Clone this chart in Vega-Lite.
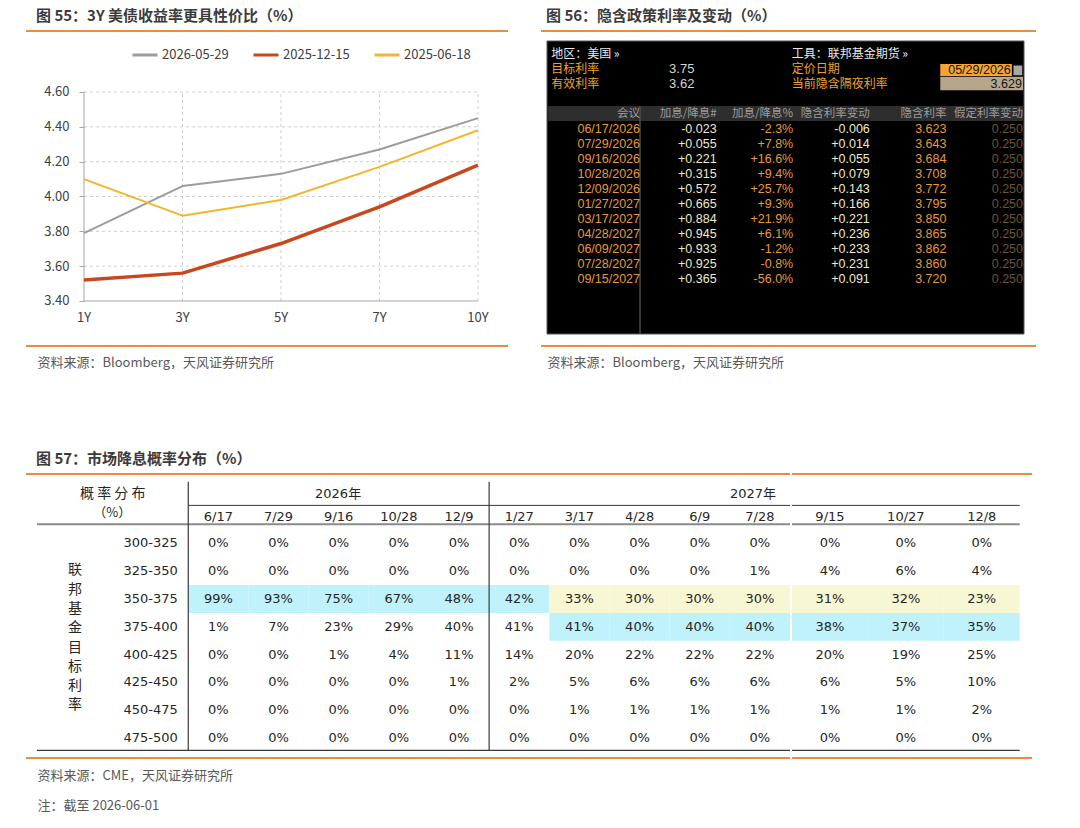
{
"$schema":"https://vega.github.io/schema/vega-lite/v6.json",
"background":"#ffffff",
"padding":{"left":25,"top":9,"right":5,"bottom":5},
"spacing":83,
"resolve":{"scale":{"x":"independent","y":"independent","color":"independent"}},
"datasets":{
"curve":[
{"date":"2026-05-29","tenor":"1Y","yield":3.79},{"date":"2026-05-29","tenor":"3Y","yield":4.06},{"date":"2026-05-29","tenor":"5Y","yield":4.13},{"date":"2026-05-29","tenor":"7Y","yield":4.27},{"date":"2026-05-29","tenor":"10Y","yield":4.45},
{"date":"2025-12-15","tenor":"1Y","yield":3.52},{"date":"2025-12-15","tenor":"3Y","yield":3.56},{"date":"2025-12-15","tenor":"5Y","yield":3.73},{"date":"2025-12-15","tenor":"7Y","yield":3.94},{"date":"2025-12-15","tenor":"10Y","yield":4.18},
{"date":"2025-06-18","tenor":"1Y","yield":4.10},{"date":"2025-06-18","tenor":"3Y","yield":3.89},{"date":"2025-06-18","tenor":"5Y","yield":3.98},{"date":"2025-06-18","tenor":"7Y","yield":4.17},{"date":"2025-06-18","tenor":"10Y","yield":4.38}
],
"bbg":[
{"meeting":"06/17/2026","hikes":"-0.023","pct":"-2.3%","chg":"-0.006","rate":"3.623","assumed":"0.250"},
{"meeting":"07/29/2026","hikes":"+0.055","pct":"+7.8%","chg":"+0.014","rate":"3.643","assumed":"0.250"},
{"meeting":"09/16/2026","hikes":"+0.221","pct":"+16.6%","chg":"+0.055","rate":"3.684","assumed":"0.250"},
{"meeting":"10/28/2026","hikes":"+0.315","pct":"+9.4%","chg":"+0.079","rate":"3.708","assumed":"0.250"},
{"meeting":"12/09/2026","hikes":"+0.572","pct":"+25.7%","chg":"+0.143","rate":"3.772","assumed":"0.250"},
{"meeting":"01/27/2027","hikes":"+0.665","pct":"+9.3%","chg":"+0.166","rate":"3.795","assumed":"0.250"},
{"meeting":"03/17/2027","hikes":"+0.884","pct":"+21.9%","chg":"+0.221","rate":"3.850","assumed":"0.250"},
{"meeting":"04/28/2027","hikes":"+0.945","pct":"+6.1%","chg":"+0.236","rate":"3.865","assumed":"0.250"},
{"meeting":"06/09/2027","hikes":"+0.933","pct":"-1.2%","chg":"+0.233","rate":"3.862","assumed":"0.250"},
{"meeting":"07/28/2027","hikes":"+0.925","pct":"-0.8%","chg":"+0.231","rate":"3.860","assumed":"0.250"},
{"meeting":"09/15/2027","hikes":"+0.365","pct":"-56.0%","chg":"+0.091","rate":"3.720","assumed":"0.250"}
],
"prob":[
{"range":"300-325","6/17":0,"7/29":0,"9/16":0,"10/28":0,"12/9":0,"1/27":0,"3/17":0,"4/28":0,"6/9":0,"7/28":0,"9/15":0,"10/27":0,"12/8":0},
{"range":"325-350","6/17":0,"7/29":0,"9/16":0,"10/28":0,"12/9":0,"1/27":0,"3/17":0,"4/28":0,"6/9":0,"7/28":0.01,"9/15":0.04,"10/27":0.06,"12/8":0.04},
{"range":"350-375","6/17":0.99,"7/29":0.93,"9/16":0.75,"10/28":0.67,"12/9":0.48,"1/27":0.42,"3/17":0.33,"4/28":0.30,"6/9":0.30,"7/28":0.30,"9/15":0.31,"10/27":0.32,"12/8":0.23},
{"range":"375-400","6/17":0.01,"7/29":0.07,"9/16":0.23,"10/28":0.29,"12/9":0.40,"1/27":0.41,"3/17":0.41,"4/28":0.40,"6/9":0.40,"7/28":0.40,"9/15":0.38,"10/27":0.37,"12/8":0.35},
{"range":"400-425","6/17":0,"7/29":0,"9/16":0.01,"10/28":0.04,"12/9":0.11,"1/27":0.14,"3/17":0.20,"4/28":0.22,"6/9":0.22,"7/28":0.22,"9/15":0.20,"10/27":0.19,"12/8":0.25},
{"range":"425-450","6/17":0,"7/29":0,"9/16":0,"10/28":0,"12/9":0.01,"1/27":0.02,"3/17":0.05,"4/28":0.06,"6/9":0.06,"7/28":0.06,"9/15":0.06,"10/27":0.05,"12/8":0.10},
{"range":"450-475","6/17":0,"7/29":0,"9/16":0,"10/28":0,"12/9":0,"1/27":0,"3/17":0.01,"4/28":0.01,"6/9":0.01,"7/28":0.01,"9/15":0.01,"10/27":0.01,"12/8":0.02},
{"range":"475-500","6/17":0,"7/29":0,"9/16":0,"10/28":0,"12/9":0,"1/27":0,"3/17":0,"4/28":0,"6/9":0,"7/28":0,"9/15":0,"10/27":0,"12/8":0}
]
},
"vconcat":[
{"hconcat":[
{
"width":482,"height":315,
"title":{"text":"图 55：3Y 美债收益率更具性价比（%）"},
"data":{"name":"curve"},
"layer":[
{"data":{"values":[{"v":3.6},{"v":3.8},{"v":4.0},{"v":4.2},{"v":4.4},{"v":4.6}]},
 "mark":{"type":"rule","color":"#cfcfcf","strokeDash":[3,3],"strokeWidth":1},
 "encoding":{"x":{"datum":"1Y","type":"ordinal","scale":{"type":"point","domain":["1Y","3Y","5Y","7Y","10Y"],"padding":0.4467,"align":0.659}},"x2":{"datum":"10Y"},
 "y":{"field":"v","type":"quantitative","scale":{"domain":[3.1416,4.9502],"nice":false,"zero":false}}}},
{"transform":[{"filter":"datum.date == '2026-05-29' && datum.tenor != '1Y'"}],
 "mark":{"type":"rule","color":"#cfcfcf","strokeDash":[3,3],"strokeWidth":1},
 "encoding":{"x":{"field":"tenor","type":"ordinal","scale":{"type":"point","domain":["1Y","3Y","5Y","7Y","10Y"],"padding":0.4467,"align":0.659}},
 "y":{"datum":3.4,"type":"quantitative","scale":{"domain":[3.1416,4.9502],"nice":false,"zero":false}},"y2":{"datum":4.6}}},
{"data":{"values":[{}]},"mark":{"type":"rule","color":"#a6a6a6","strokeWidth":1},
 "encoding":{"x":{"datum":"1Y","type":"ordinal","scale":{"type":"point","domain":["1Y","3Y","5Y","7Y","10Y"],"padding":0.4467,"align":0.659}},"x2":{"datum":"10Y"},
 "y":{"datum":3.4,"type":"quantitative","scale":{"domain":[3.1416,4.9502],"nice":false,"zero":false}}}},
{"data":{"values":[{}]},"mark":{"type":"rule","color":"#a6a6a6","strokeWidth":1},
 "encoding":{"x":{"datum":"1Y","type":"ordinal","scale":{"type":"point","domain":["1Y","3Y","5Y","7Y","10Y"],"padding":0.4467,"align":0.659}},
 "y":{"datum":3.4,"type":"quantitative","scale":{"domain":[3.1416,4.9502],"nice":false,"zero":false}},"y2":{"datum":4.6}}},
{"mark":{"type":"line","strokeJoin":"round"},
 "encoding":{
 "x":{"field":"tenor","type":"ordinal","scale":{"type":"point","domain":["1Y","3Y","5Y","7Y","10Y"],"padding":0.4467,"align":0.659},
   "axis":{"labels":false,"ticks":false,"domain":false,"grid":false,"title":"资料来源：Bloomberg，天风证券研究所","titleAnchor":"start","titleAlign":"left","titleX":11,"titlePadding":10,"titleBaseline":"top","titleFontSize":13,"titleFontWeight":"normal","titleColor":"#595959"}},
 "y":{"field":"yield","type":"quantitative","scale":{"domain":[3.1416,4.9502],"nice":false,"zero":false},
   "axis":{"values":[3.4,3.6,3.8,4.0,4.2,4.4,4.6],"format":".2f","offset":-58,"domain":false,"grid":false,"ticks":true,"tickSize":5,"tickColor":"#a6a6a6","labelPadding":10,"labelFontSize":13,"labelColor":"#404040","title":null}},
 "color":{"field":"date","type":"nominal","scale":{"domain":["2026-05-29","2025-12-15","2025-06-18"],"range":["#9c9c9c","#C9471D","#F5B52B"]},
   "legend":{"orient":"none","legendX":105,"legendY":10,"direction":"horizontal","title":null,"symbolType":"stroke","symbolSize":625,"symbolStrokeWidth":3,"labelFontSize":13,"labelColor":"#404040","columnPadding":18,"labelOffset":3}},
 "strokeWidth":{"condition":{"test":"datum.date == '2025-12-15'","value":3.5},"value":2},
 "order":{"value":null}
 }},
{"transform":[{"filter":"datum.date == '2026-05-29'"}],
 "mark":{"type":"text","baseline":"top","dy":11,"fontSize":13,"color":"#404040"},
 "encoding":{"x":{"field":"tenor","type":"ordinal","scale":{"type":"point","domain":["1Y","3Y","5Y","7Y","10Y"],"padding":0.4467,"align":0.659}},
 "y":{"datum":3.4,"type":"quantitative","scale":{"domain":[3.1416,4.9502],"nice":false,"zero":false}},"text":{"field":"tenor"}}},
{"data":{"values":[{}]},"mark":{"type":"rule","color":"#EE8A3C","strokeWidth":2},
 "encoding":{"y":{"datum":4.9502,"type":"quantitative","scale":{"domain":[3.1416,4.9502],"nice":false,"zero":false}}}},
{"data":{"values":[{}]},"mark":{"type":"rule","color":"#EE8A3C","strokeWidth":2},
 "encoding":{"y":{"datum":3.1416,"type":"quantitative","scale":{"domain":[3.1416,4.9502],"nice":false,"zero":false}}}}
]
},
{
"width":495,"height":315,
"title":{"text":"图 56：隐含政策利率及变动（%）","dx":6},
"layer":[
{"data":{"values":[{}]},"mark":{"type":"rule","color":"#EE8A3C","strokeWidth":2},
 "encoding":{"y":{"datum":"top","type":"nominal","bandPosition":0,"scale":{"type":"band","domain":["top","地区","目标利率","有效利率","gap","header","06/17/2026","07/29/2026","09/16/2026","10/28/2026","12/09/2026","01/27/2027","03/17/2027","04/28/2027","06/09/2027","07/28/2027","09/15/2027","b1","b2","b3","b4"],"paddingInner":0,"paddingOuter":0},"axis":null}}},
{"data":{"values":[{}]},"mark":{"type":"rule","color":"#EE8A3C","strokeWidth":2},
 "encoding":{"y":{"datum":"b4","type":"nominal","bandPosition":1,"scale":{"type":"band","domain":["top","地区","目标利率","有效利率","gap","header","06/17/2026","07/29/2026","09/16/2026","10/28/2026","12/09/2026","01/27/2027","03/17/2027","04/28/2027","06/09/2027","07/28/2027","09/15/2027","b1","b2","b3","b4"],"paddingInner":0,"paddingOuter":0},"axis":null}}},
{"data":{"values":[{}]},"mark":{"type":"rect","fill":"#000000","stroke":"#555555","strokeWidth":1},
 "encoding":{"x":{"datum":"meeting","type":"nominal","bandPosition":-0.214,"scale":{"type":"band","domain":["meeting","hikes","pct","chg","rate","assumed"],"paddingInner":0,"paddingOuter":0.2311,"align":0.633}},"x2":{"datum":"assumed","bandPosition":1.013},
 "y":{"datum":"top","type":"nominal","bandPosition":0.667,"scale":{"type":"band","domain":["top","地区","目标利率","有效利率","gap","header","06/17/2026","07/29/2026","09/16/2026","10/28/2026","12/09/2026","01/27/2027","03/17/2027","04/28/2027","06/09/2027","07/28/2027","09/15/2027","b1","b2","b3","b4"],"paddingInner":0,"paddingOuter":0},"axis":null},"y2":{"datum":"b4","bandPosition":0.2}}},
{"data":{"values":[{}]},"mark":{"type":"rect","fill":"#2e2e2e"},
 "encoding":{"x":{"datum":"meeting","type":"nominal","bandPosition":-0.2,"scale":{"type":"band","domain":["meeting","hikes","pct","chg","rate","assumed"],"paddingInner":0,"paddingOuter":0.2311,"align":0.633}},"x2":{"datum":"assumed","bandPosition":1.0},
 "y":{"datum":"header","type":"nominal","bandPosition":0,"scale":{"type":"band","domain":["top","地区","目标利率","有效利率","gap","header","06/17/2026","07/29/2026","09/16/2026","10/28/2026","12/09/2026","01/27/2027","03/17/2027","04/28/2027","06/09/2027","07/28/2027","09/15/2027","b1","b2","b3","b4"],"paddingInner":0,"paddingOuter":0},"axis":null},"y2":{"datum":"header","bandPosition":1}}},
{"data":{"values":[{}]},"mark":{"type":"rule","color":"#4a4a4a","strokeWidth":1.5},
 "encoding":{"x":{"datum":"hikes","type":"nominal","bandPosition":0,"scale":{"type":"band","domain":["meeting","hikes","pct","chg","rate","assumed"],"paddingInner":0,"paddingOuter":0.2311,"align":0.633}},
 "y":{"datum":"header","type":"nominal","bandPosition":0,"scale":{"type":"band","domain":["top","地区","目标利率","有效利率","gap","header","06/17/2026","07/29/2026","09/16/2026","10/28/2026","12/09/2026","01/27/2027","03/17/2027","04/28/2027","06/09/2027","07/28/2027","09/15/2027","b1","b2","b3","b4"],"paddingInner":0,"paddingOuter":0},"axis":null},"y2":{"datum":"b4","bandPosition":0.2}}},
{"data":{"values":[{"col":"meeting","label":"会议"},{"col":"hikes","label":"加息/降息#"},{"col":"pct","label":"加息/降息%"},{"col":"chg","label":"隐含利率变动"},{"col":"rate","label":"隐含利率"},{"col":"assumed","label":"假定利率变动"}]},
 "mark":{"type":"text","align":"right","fontSize":11.5,"color":"#9c9c9c"},
 "encoding":{"x":{"field":"col","type":"nominal","bandPosition":1,"scale":{"type":"band","domain":["meeting","hikes","pct","chg","rate","assumed"],"paddingInner":0,"paddingOuter":0.2311,"align":0.633},
   "axis":{"labels":false,"ticks":false,"domain":false,"grid":false,"title":"资料来源：Bloomberg，天风证券研究所","titleAnchor":"start","titleAlign":"left","titleX":6,"titlePadding":10,"titleBaseline":"top","titleFontSize":13,"titleFontWeight":"normal","titleColor":"#595959"}},
 "y":{"datum":"header","type":"nominal","scale":{"type":"band","domain":["top","地区","目标利率","有效利率","gap","header","06/17/2026","07/29/2026","09/16/2026","10/28/2026","12/09/2026","01/27/2027","03/17/2027","04/28/2027","06/09/2027","07/28/2027","09/15/2027","b1","b2","b3","b4"],"paddingInner":0,"paddingOuter":0},"axis":null},"text":{"field":"label"}}},
{"data":{"name":"bbg"},"transform":[{"fold":["meeting","hikes","pct","chg","rate","assumed"],"as":["col","val"]}],
 "mark":{"type":"text","align":"right","fontSize":12.5,"font":"Liberation Sans, Noto Sans CJK SC"},
 "encoding":{"x":{"field":"col","type":"nominal","bandPosition":1,"scale":{"type":"band","domain":["meeting","hikes","pct","chg","rate","assumed"],"paddingInner":0,"paddingOuter":0.2311,"align":0.633}},
 "y":{"field":"meeting","type":"nominal","scale":{"type":"band","domain":["top","地区","目标利率","有效利率","gap","header","06/17/2026","07/29/2026","09/16/2026","10/28/2026","12/09/2026","01/27/2027","03/17/2027","04/28/2027","06/09/2027","07/28/2027","09/15/2027","b1","b2","b3","b4"],"paddingInner":0,"paddingOuter":0},"axis":null},
 "text":{"field":"val"},
 "color":{"field":"col","type":"nominal","scale":{"domain":["meeting","hikes","pct","chg","rate","assumed"],"range":["#E89A3A","#EFEAC8","#E89A3A","#EFEAC8","#E89A3A","#6B5535"]},"legend":null}}},
{"data":{"values":[{"row":"地区","t":"地区：美国 »","k":"选项"},{"row":"目标利率","t":"目标利率","k":"字段"},{"row":"有效利率","t":"有效利率","k":"字段"}]},
 "mark":{"type":"text","align":"left","fontSize":12},
 "encoding":{"x":{"datum":"meeting","type":"nominal","bandPosition":-0.16,"scale":{"type":"band","domain":["meeting","hikes","pct","chg","rate","assumed"],"paddingInner":0,"paddingOuter":0.2311,"align":0.633}},
 "y":{"field":"row","type":"nominal","scale":{"type":"band","domain":["top","地区","目标利率","有效利率","gap","header","06/17/2026","07/29/2026","09/16/2026","10/28/2026","12/09/2026","01/27/2027","03/17/2027","04/28/2027","06/09/2027","07/28/2027","09/15/2027","b1","b2","b3","b4"],"paddingInner":0,"paddingOuter":0},"axis":null},
 "text":{"field":"t"},"color":{"condition":{"test":"datum.k == '选项'","value":"#E8E8E8"},"value":"#F2A02C"}}},
{"data":{"values":[{"row":"目标利率","t":"3.75"},{"row":"有效利率","t":"3.62"}]},
 "mark":{"type":"text","align":"left","fontSize":13,"font":"Liberation Sans, Noto Sans CJK SC","color":"#D4D4D4"},
 "encoding":{"x":{"datum":"hikes","type":"nominal","bandPosition":0.38,"scale":{"type":"band","domain":["meeting","hikes","pct","chg","rate","assumed"],"paddingInner":0,"paddingOuter":0.2311,"align":0.633}},
 "y":{"field":"row","type":"nominal","scale":{"type":"band","domain":["top","地区","目标利率","有效利率","gap","header","06/17/2026","07/29/2026","09/16/2026","10/28/2026","12/09/2026","01/27/2027","03/17/2027","04/28/2027","06/09/2027","07/28/2027","09/15/2027","b1","b2","b3","b4"],"paddingInner":0,"paddingOuter":0},"axis":null},
 "text":{"field":"t"}}},
{"data":{"values":[{"row":"地区","t":"工具：联邦基金期货 »","k":"选项"},{"row":"目标利率","t":"定价日期","k":"字段"},{"row":"有效利率","t":"当前隐含隔夜利率","k":"字段"}]},
 "mark":{"type":"text","align":"left","fontSize":12},
 "encoding":{"x":{"datum":"chg","type":"nominal","bandPosition":-0.02,"scale":{"type":"band","domain":["meeting","hikes","pct","chg","rate","assumed"],"paddingInner":0,"paddingOuter":0.2311,"align":0.633}},
 "y":{"field":"row","type":"nominal","scale":{"type":"band","domain":["top","地区","目标利率","有效利率","gap","header","06/17/2026","07/29/2026","09/16/2026","10/28/2026","12/09/2026","01/27/2027","03/17/2027","04/28/2027","06/09/2027","07/28/2027","09/15/2027","b1","b2","b3","b4"],"paddingInner":0,"paddingOuter":0},"axis":null},
 "text":{"field":"t"},"color":{"condition":{"test":"datum.k == '选项'","value":"#E8E8E8"},"value":"#F2A02C"}}},
{"data":{"values":[{}]},"mark":{"type":"rect","fill":"#F6A535"},
 "encoding":{"x":{"datum":"rate","type":"nominal","bandPosition":0.92,"scale":{"type":"band","domain":["meeting","hikes","pct","chg","rate","assumed"],"paddingInner":0,"paddingOuter":0.2311,"align":0.633}},"x2":{"datum":"assumed","bandPosition":0.855},
 "y":{"datum":"目标利率","type":"nominal","bandPosition":0.2,"scale":{"type":"band","domain":["top","地区","目标利率","有效利率","gap","header","06/17/2026","07/29/2026","09/16/2026","10/28/2026","12/09/2026","01/27/2027","03/17/2027","04/28/2027","06/09/2027","07/28/2027","09/15/2027","b1","b2","b3","b4"],"paddingInner":0,"paddingOuter":0},"axis":null},"y2":{"datum":"目标利率","bandPosition":1.0}}},
{"data":{"values":[{}]},"mark":{"type":"rect","fill":"#a8a8a8"},
 "encoding":{"x":{"datum":"assumed","type":"nominal","bandPosition":0.875,"scale":{"type":"band","domain":["meeting","hikes","pct","chg","rate","assumed"],"paddingInner":0,"paddingOuter":0.2311,"align":0.633}},"x2":{"datum":"assumed","bandPosition":0.99},
 "y":{"datum":"目标利率","type":"nominal","bandPosition":0.3,"scale":{"type":"band","domain":["top","地区","目标利率","有效利率","gap","header","06/17/2026","07/29/2026","09/16/2026","10/28/2026","12/09/2026","01/27/2027","03/17/2027","04/28/2027","06/09/2027","07/28/2027","09/15/2027","b1","b2","b3","b4"],"paddingInner":0,"paddingOuter":0},"axis":null},"y2":{"datum":"目标利率","bandPosition":0.95}}},
{"data":{"values":[{}]},"mark":{"type":"rect","fill":"#B6A78C"},
 "encoding":{"x":{"datum":"rate","type":"nominal","bandPosition":0.92,"scale":{"type":"band","domain":["meeting","hikes","pct","chg","rate","assumed"],"paddingInner":0,"paddingOuter":0.2311,"align":0.633}},"x2":{"datum":"assumed","bandPosition":1.0},
 "y":{"datum":"有效利率","type":"nominal","bandPosition":0.05,"scale":{"type":"band","domain":["top","地区","目标利率","有效利率","gap","header","06/17/2026","07/29/2026","09/16/2026","10/28/2026","12/09/2026","01/27/2027","03/17/2027","04/28/2027","06/09/2027","07/28/2027","09/15/2027","b1","b2","b3","b4"],"paddingInner":0,"paddingOuter":0},"axis":null},"y2":{"datum":"有效利率","bandPosition":0.95}}},
{"data":{"values":[{"row":"目标利率","t":"05/29/2026"}]},
 "mark":{"type":"text","align":"right","fontSize":12.5,"font":"Liberation Sans, Noto Sans CJK SC","color":"#141414"},
 "encoding":{"x":{"datum":"assumed","type":"nominal","bandPosition":0.84,"scale":{"type":"band","domain":["meeting","hikes","pct","chg","rate","assumed"],"paddingInner":0,"paddingOuter":0.2311,"align":0.633}},
 "y":{"field":"row","type":"nominal","bandPosition":0.62,"scale":{"type":"band","domain":["top","地区","目标利率","有效利率","gap","header","06/17/2026","07/29/2026","09/16/2026","10/28/2026","12/09/2026","01/27/2027","03/17/2027","04/28/2027","06/09/2027","07/28/2027","09/15/2027","b1","b2","b3","b4"],"paddingInner":0,"paddingOuter":0},"axis":null},"text":{"field":"t"}}},
{"data":{"values":[{"row":"有效利率","t":"3.629"}]},
 "mark":{"type":"text","align":"right","fontSize":12.5,"font":"Liberation Sans, Noto Sans CJK SC","color":"#141414"},
 "encoding":{"x":{"datum":"assumed","type":"nominal","bandPosition":0.985,"scale":{"type":"band","domain":["meeting","hikes","pct","chg","rate","assumed"],"paddingInner":0,"paddingOuter":0.2311,"align":0.633}},
 "y":{"field":"row","type":"nominal","bandPosition":0.52,"scale":{"type":"band","domain":["top","地区","目标利率","有效利率","gap","header","06/17/2026","07/29/2026","09/16/2026","10/28/2026","12/09/2026","01/27/2027","03/17/2027","04/28/2027","06/09/2027","07/28/2027","09/15/2027","b1","b2","b3","b4"],"paddingInner":0,"paddingOuter":0},"axis":null},"text":{"field":"t"}}}
]
}
],"spacing":31,"resolve":{"scale":{"x":"independent","y":"independent","color":"independent"}}},
{"hconcat":[
{
"width":764,"height":284,
"title":{"text":"图 57：市场降息概率分布（%）"},
"layer":[
{"data":{"name":"prob"},"transform":[{"fold":["6/17","7/29","9/16","10/28","12/9","1/27","3/17","4/28","6/9","7/28"],"as":["date","p"]},{"joinaggregate":[{"op":"max","field":"p","as":"pmax"}],"groupby":["date"]},{"filter":"datum.p == datum.pmax"}],
 "mark":{"type":"rect","fill":"#BFF2FA"},
 "encoding":{"x":{"field":"date","type":"nominal","scale":{"type":"band","domain":["rh","rl","6/17","7/29","9/16","10/28","12/9","1/27","3/17","4/28","6/9","7/28"],"paddingInner":0,"paddingOuter":0.3483,"align":1},
   "axis":{"labels":false,"ticks":false,"domain":false,"grid":false,"title":["资料来源：CME，天风证券研究所","注：截至 2026-06-01"],"titleAnchor":"start","titleAlign":"left","titleX":11,"titlePadding":11,"titleBaseline":"top","titleLineHeight":30,"titleFontSize":13,"titleFontWeight":"normal","titleColor":"#595959"}},
 "y":{"field":"range","type":"nominal","scale":{"type":"band","domain":["h1","h2","300-325","325-350","350-375","375-400","400-425","425-450","450-475","475-500"],"paddingInner":0,"paddingOuter":0.1115,"align":0},"axis":null}}},
{"data":{"name":"prob"},"transform":[{"fold":["6/17","7/29","9/16","10/28","12/9","1/27","3/17","4/28","6/9","7/28"],"as":["date","p"]},{"joinaggregate":[{"op":"max","field":"p","as":"pmax"}],"groupby":["date"]},{"filter":"datum.range == '350-375' && datum.p < datum.pmax"}],
 "mark":{"type":"rect","fill":"#F7F7D3"},
 "encoding":{"x":{"field":"date","type":"nominal","scale":{"type":"band","domain":["rh","rl","6/17","7/29","9/16","10/28","12/9","1/27","3/17","4/28","6/9","7/28"],"paddingInner":0,"paddingOuter":0.3483,"align":1}},
 "y":{"field":"range","type":"nominal","scale":{"type":"band","domain":["h1","h2","300-325","325-350","350-375","375-400","400-425","425-450","450-475","475-500"],"paddingInner":0,"paddingOuter":0.1115,"align":0},"axis":null}}},
{"data":{"values":[{}]},"mark":{"type":"rule","color":"#3a3a3a","strokeWidth":1},
 "encoding":{"x":{"datum":"6/17","type":"nominal","bandPosition":0,"scale":{"type":"band","domain":["rh","rl","6/17","7/29","9/16","10/28","12/9","1/27","3/17","4/28","6/9","7/28"],"paddingInner":0,"paddingOuter":0.3483,"align":1}},"x2":{"datum":"7/28","bandPosition":1},
 "y":{"datum":"h2","type":"nominal","bandPosition":0.13,"scale":{"type":"band","domain":["h1","h2","300-325","325-350","350-375","375-400","400-425","425-450","450-475","475-500"],"paddingInner":0,"paddingOuter":0.1115,"align":0},"axis":null}}},
{"data":{"values":[{}]},"mark":{"type":"rule","color":"#8a8a8a","strokeWidth":2},
 "encoding":{"x":{"datum":"rh","type":"nominal","bandPosition":-0.514,"scale":{"type":"band","domain":["rh","rl","6/17","7/29","9/16","10/28","12/9","1/27","3/17","4/28","6/9","7/28"],"paddingInner":0,"paddingOuter":0.3483,"align":1}},"x2":{"datum":"7/28","bandPosition":1},
 "y":{"datum":"h2","type":"nominal","bandPosition":0.81,"scale":{"type":"band","domain":["h1","h2","300-325","325-350","350-375","375-400","400-425","425-450","450-475","475-500"],"paddingInner":0,"paddingOuter":0.1115,"align":0},"axis":null}}},
{"data":{"values":[{}]},"mark":{"type":"rule","color":"#3a3a3a","strokeWidth":1.2},
 "encoding":{"x":{"datum":"rh","type":"nominal","bandPosition":-0.514,"scale":{"type":"band","domain":["rh","rl","6/17","7/29","9/16","10/28","12/9","1/27","3/17","4/28","6/9","7/28"],"paddingInner":0,"paddingOuter":0.3483,"align":1}},"x2":{"datum":"7/28","bandPosition":1},
 "y":{"datum":"475-500","type":"nominal","bandPosition":0.946,"scale":{"type":"band","domain":["h1","h2","300-325","325-350","350-375","375-400","400-425","425-450","450-475","475-500"],"paddingInner":0,"paddingOuter":0.1115,"align":0},"axis":null}}},
{"data":{"values":[{"d":"6/17"},{"d":"1/27"}]},"mark":{"type":"rule","color":"#3a3a3a","strokeWidth":1.2},
 "encoding":{"x":{"field":"d","type":"nominal","bandPosition":0,"scale":{"type":"band","domain":["rh","rl","6/17","7/29","9/16","10/28","12/9","1/27","3/17","4/28","6/9","7/28"],"paddingInner":0,"paddingOuter":0.3483,"align":1}},
 "y":{"datum":"h1","type":"nominal","bandPosition":0.277,"scale":{"type":"band","domain":["h1","h2","300-325","325-350","350-375","375-400","400-425","425-450","450-475","475-500"],"paddingInner":0,"paddingOuter":0.1115,"align":0},"axis":null},"y2":{"datum":"475-500","bandPosition":0.946}}},
{"data":{"name":"prob"},"transform":[{"fold":["6/17","7/29","9/16","10/28","12/9","1/27","3/17","4/28","6/9","7/28"],"as":["date","p"]}],
 "mark":{"type":"text","fontSize":13,"font":"DejaVu Sans, Noto Sans CJK SC","color":"#262626"},
 "encoding":{"x":{"field":"date","type":"nominal","scale":{"type":"band","domain":["rh","rl","6/17","7/29","9/16","10/28","12/9","1/27","3/17","4/28","6/9","7/28"],"paddingInner":0,"paddingOuter":0.3483,"align":1}},
 "y":{"field":"range","type":"nominal","scale":{"type":"band","domain":["h1","h2","300-325","325-350","350-375","375-400","400-425","425-450","450-475","475-500"],"paddingInner":0,"paddingOuter":0.1115,"align":0},"axis":null},
 "text":{"field":"p","type":"quantitative","format":".0%"}}},
{"data":{"name":"prob"},
 "mark":{"type":"text","align":"right","fontSize":13,"font":"DejaVu Sans, Noto Sans CJK SC","color":"#262626"},
 "encoding":{"x":{"datum":"rl","type":"nominal","bandPosition":0.825,"scale":{"type":"band","domain":["rh","rl","6/17","7/29","9/16","10/28","12/9","1/27","3/17","4/28","6/9","7/28"],"paddingInner":0,"paddingOuter":0.3483,"align":1}},
 "y":{"field":"range","type":"nominal","scale":{"type":"band","domain":["h1","h2","300-325","325-350","350-375","375-400","400-425","425-450","450-475","475-500"],"paddingInner":0,"paddingOuter":0.1115,"align":0},"axis":null},"text":{"field":"range"}}},
{"data":{"values":[{"t":"联\n邦\n基\n金\n目\n标\n利\n率"}]},
 "mark":{"type":"text","lineBreak":"\n","lineHeight":19.3,"fontSize":14,"color":"#262626","baseline":"middle"},
 "encoding":{"x":{"datum":"rh","type":"nominal","bandPosition":0.118,"scale":{"type":"band","domain":["rh","rl","6/17","7/29","9/16","10/28","12/9","1/27","3/17","4/28","6/9","7/28"],"paddingInner":0,"paddingOuter":0.3483,"align":1}},
 "y":{"datum":"325-350","type":"nominal","bandPosition":0.47,"scale":{"type":"band","domain":["h1","h2","300-325","325-350","350-375","375-400","400-425","425-450","450-475","475-500"],"paddingInner":0,"paddingOuter":0.1115,"align":0},"axis":null},"text":{"field":"t"}}},
{"data":{"values":[{"t":"概 率 分 布"}]},
 "mark":{"type":"text","fontSize":14,"color":"#262626"},
 "encoding":{"x":{"datum":"rh","type":"nominal","bandPosition":0.745,"scale":{"type":"band","domain":["rh","rl","6/17","7/29","9/16","10/28","12/9","1/27","3/17","4/28","6/9","7/28"],"paddingInner":0,"paddingOuter":0.3483,"align":1}},
 "y":{"datum":"h1","type":"nominal","bandPosition":0.73,"scale":{"type":"band","domain":["h1","h2","300-325","325-350","350-375","375-400","400-425","425-450","450-475","475-500"],"paddingInner":0,"paddingOuter":0.1115,"align":0},"axis":null},"text":{"field":"t"}}},
{"data":{"values":[{"t":"（%）"}]},
 "mark":{"type":"text","fontSize":13,"color":"#262626"},
 "encoding":{"x":{"datum":"rh","type":"nominal","bandPosition":0.735,"scale":{"type":"band","domain":["rh","rl","6/17","7/29","9/16","10/28","12/9","1/27","3/17","4/28","6/9","7/28"],"paddingInner":0,"paddingOuter":0.3483,"align":1}},
 "y":{"datum":"h2","type":"nominal","bandPosition":0.42,"scale":{"type":"band","domain":["h1","h2","300-325","325-350","350-375","375-400","400-425","425-450","450-475","475-500"],"paddingInner":0,"paddingOuter":0.1115,"align":0},"axis":null},"text":{"field":"t"}}},
{"data":{"values":[{"t":"2026年"}]},
 "mark":{"type":"text","fontSize":13,"font":"DejaVu Sans, Noto Sans CJK SC","color":"#262626"},
 "encoding":{"x":{"datum":"9/16","type":"nominal","bandPosition":0.49,"scale":{"type":"band","domain":["rh","rl","6/17","7/29","9/16","10/28","12/9","1/27","3/17","4/28","6/9","7/28"],"paddingInner":0,"paddingOuter":0.3483,"align":1}},
 "y":{"datum":"h1","type":"nominal","bandPosition":0.73,"scale":{"type":"band","domain":["h1","h2","300-325","325-350","350-375","375-400","400-425","425-450","450-475","475-500"],"paddingInner":0,"paddingOuter":0.1115,"align":0},"axis":null},"text":{"field":"t"}}},
{"data":{"values":[{"t":"2027年"}]},
 "mark":{"type":"text","fontSize":13,"font":"DejaVu Sans, Noto Sans CJK SC","color":"#262626"},
 "encoding":{"x":{"datum":"7/28","type":"nominal","bandPosition":0.385,"scale":{"type":"band","domain":["rh","rl","6/17","7/29","9/16","10/28","12/9","1/27","3/17","4/28","6/9","7/28"],"paddingInner":0,"paddingOuter":0.3483,"align":1}},
 "y":{"datum":"h1","type":"nominal","bandPosition":0.73,"scale":{"type":"band","domain":["h1","h2","300-325","325-350","350-375","375-400","400-425","425-450","450-475","475-500"],"paddingInner":0,"paddingOuter":0.1115,"align":0},"axis":null},"text":{"field":"t"}}},
{"data":{"name":"prob"},"transform":[{"filter":"datum.range == '300-325'"},{"fold":["6/17","7/29","9/16","10/28","12/9","1/27","3/17","4/28","6/9","7/28"],"as":["date","p"]}],
 "mark":{"type":"text","fontSize":13,"font":"DejaVu Sans, Noto Sans CJK SC","color":"#262626"},
 "encoding":{"x":{"field":"date","type":"nominal","scale":{"type":"band","domain":["rh","rl","6/17","7/29","9/16","10/28","12/9","1/27","3/17","4/28","6/9","7/28"],"paddingInner":0,"paddingOuter":0.3483,"align":1}},
 "y":{"datum":"h2","type":"nominal","bandPosition":0.54,"scale":{"type":"band","domain":["h1","h2","300-325","325-350","350-375","375-400","400-425","425-450","450-475","475-500"],"paddingInner":0,"paddingOuter":0.1115,"align":0},"axis":null},"text":{"field":"date"}}},
{"data":{"values":[{}]},"mark":{"type":"rule","color":"#EE8A3C","strokeWidth":2},
 "encoding":{"y":{"datum":"h1","type":"nominal","bandPosition":0,"scale":{"type":"band","domain":["h1","h2","300-325","325-350","350-375","375-400","400-425","425-450","450-475","475-500"],"paddingInner":0,"paddingOuter":0.1115,"align":0},"axis":null}}},
{"data":{"values":[{}]},"mark":{"type":"rule","color":"#EE8A3C","strokeWidth":2},
 "encoding":{"y":{"datum":"475-500","type":"nominal","bandPosition":1.223,"scale":{"type":"band","domain":["h1","h2","300-325","325-350","350-375","375-400","400-425","425-450","450-475","475-500"],"paddingInner":0,"paddingOuter":0.1115,"align":0},"axis":null}}}
]
},
{
"width":240,"height":284,
"title":{"text":"　"},
"layer":[
{"data":{"name":"prob"},"transform":[{"fold":["9/15","10/27","12/8"],"as":["date","p"]},{"joinaggregate":[{"op":"max","field":"p","as":"pmax"}],"groupby":["date"]},{"filter":"datum.p == datum.pmax"}],
 "mark":{"type":"rect","fill":"#BFF2FA"},
 "encoding":{"x":{"field":"date","type":"nominal","scale":{"type":"band","domain":["9/15","10/27","12/8"],"paddingInner":0,"paddingOuter":0.0809,"align":0},"axis":null},
 "y":{"field":"range","type":"nominal","scale":{"type":"band","domain":["h1","h2","300-325","325-350","350-375","375-400","400-425","425-450","450-475","475-500"],"paddingInner":0,"paddingOuter":0.1115,"align":0},"axis":null}}},
{"data":{"name":"prob"},"transform":[{"fold":["9/15","10/27","12/8"],"as":["date","p"]},{"joinaggregate":[{"op":"max","field":"p","as":"pmax"}],"groupby":["date"]},{"filter":"datum.range == '350-375' && datum.p < datum.pmax"}],
 "mark":{"type":"rect","fill":"#F7F7D3"},
 "encoding":{"x":{"field":"date","type":"nominal","scale":{"type":"band","domain":["9/15","10/27","12/8"],"paddingInner":0,"paddingOuter":0.0809,"align":0},"axis":null},
 "y":{"field":"range","type":"nominal","scale":{"type":"band","domain":["h1","h2","300-325","325-350","350-375","375-400","400-425","425-450","450-475","475-500"],"paddingInner":0,"paddingOuter":0.1115,"align":0},"axis":null}}},
{"data":{"values":[{}]},"mark":{"type":"rule","color":"#3a3a3a","strokeWidth":1},
 "encoding":{"x":{"datum":"9/15","type":"nominal","bandPosition":0,"scale":{"type":"band","domain":["9/15","10/27","12/8"],"paddingInner":0,"paddingOuter":0.0809,"align":0},"axis":null},"x2":{"datum":"12/8","bandPosition":1},
 "y":{"datum":"h2","type":"nominal","bandPosition":0.13,"scale":{"type":"band","domain":["h1","h2","300-325","325-350","350-375","375-400","400-425","425-450","450-475","475-500"],"paddingInner":0,"paddingOuter":0.1115,"align":0},"axis":null}}},
{"data":{"values":[{}]},"mark":{"type":"rule","color":"#8a8a8a","strokeWidth":2},
 "encoding":{"x":{"datum":"9/15","type":"nominal","bandPosition":0,"scale":{"type":"band","domain":["9/15","10/27","12/8"],"paddingInner":0,"paddingOuter":0.0809,"align":0},"axis":null},"x2":{"datum":"12/8","bandPosition":1},
 "y":{"datum":"h2","type":"nominal","bandPosition":0.81,"scale":{"type":"band","domain":["h1","h2","300-325","325-350","350-375","375-400","400-425","425-450","450-475","475-500"],"paddingInner":0,"paddingOuter":0.1115,"align":0},"axis":null}}},
{"data":{"values":[{}]},"mark":{"type":"rule","color":"#3a3a3a","strokeWidth":1.2},
 "encoding":{"x":{"datum":"9/15","type":"nominal","bandPosition":0,"scale":{"type":"band","domain":["9/15","10/27","12/8"],"paddingInner":0,"paddingOuter":0.0809,"align":0},"axis":null},"x2":{"datum":"12/8","bandPosition":1},
 "y":{"datum":"475-500","type":"nominal","bandPosition":0.946,"scale":{"type":"band","domain":["h1","h2","300-325","325-350","350-375","375-400","400-425","425-450","450-475","475-500"],"paddingInner":0,"paddingOuter":0.1115,"align":0},"axis":null}}},
{"data":{"name":"prob"},"transform":[{"fold":["9/15","10/27","12/8"],"as":["date","p"]}],
 "mark":{"type":"text","fontSize":13,"font":"DejaVu Sans, Noto Sans CJK SC","color":"#262626"},
 "encoding":{"x":{"field":"date","type":"nominal","scale":{"type":"band","domain":["9/15","10/27","12/8"],"paddingInner":0,"paddingOuter":0.0809,"align":0},"axis":null},
 "y":{"field":"range","type":"nominal","scale":{"type":"band","domain":["h1","h2","300-325","325-350","350-375","375-400","400-425","425-450","450-475","475-500"],"paddingInner":0,"paddingOuter":0.1115,"align":0},"axis":null},
 "text":{"field":"p","type":"quantitative","format":".0%"}}},
{"data":{"name":"prob"},"transform":[{"filter":"datum.range == '300-325'"},{"fold":["9/15","10/27","12/8"],"as":["date","p"]}],
 "mark":{"type":"text","fontSize":13,"font":"DejaVu Sans, Noto Sans CJK SC","color":"#262626"},
 "encoding":{"x":{"field":"date","type":"nominal","scale":{"type":"band","domain":["9/15","10/27","12/8"],"paddingInner":0,"paddingOuter":0.0809,"align":0},"axis":null},
 "y":{"datum":"h2","type":"nominal","bandPosition":0.54,"scale":{"type":"band","domain":["h1","h2","300-325","325-350","350-375","375-400","400-425","425-450","450-475","475-500"],"paddingInner":0,"paddingOuter":0.1115,"align":0},"axis":null},"text":{"field":"date"}}},
{"data":{"values":[{}]},"mark":{"type":"rule","color":"#EE8A3C","strokeWidth":2},
 "encoding":{"y":{"datum":"h1","type":"nominal","bandPosition":0,"scale":{"type":"band","domain":["h1","h2","300-325","325-350","350-375","375-400","400-425","425-450","450-475","475-500"],"paddingInner":0,"paddingOuter":0.1115,"align":0},"axis":null}}},
{"data":{"values":[{}]},"mark":{"type":"rule","color":"#EE8A3C","strokeWidth":2},
 "encoding":{"y":{"datum":"475-500","type":"nominal","bandPosition":1.223,"scale":{"type":"band","domain":["h1","h2","300-325","325-350","350-375","375-400","400-425","425-450","450-475","475-500"],"paddingInner":0,"paddingOuter":0.1115,"align":0},"axis":null}}}
]
}
],"spacing":0,"resolve":{"scale":{"x":"independent","y":"independent","color":"independent"}}}
],
"config":{
"view":{"stroke":null},
"font":"Noto Sans CJK SC",
"title":{"font":"Noto Sans CJK SC","fontSize":15,"fontWeight":"bold","color":"#3b3b3b","anchor":"start","dx":11,"offset":6},
"axis":{"labelFont":"Noto Sans CJK SC","titleFont":"Noto Sans CJK SC"},
"legend":{"labelFont":"Noto Sans CJK SC"},
"text":{"font":"Noto Sans CJK SC","color":"#262626"}
}
}
